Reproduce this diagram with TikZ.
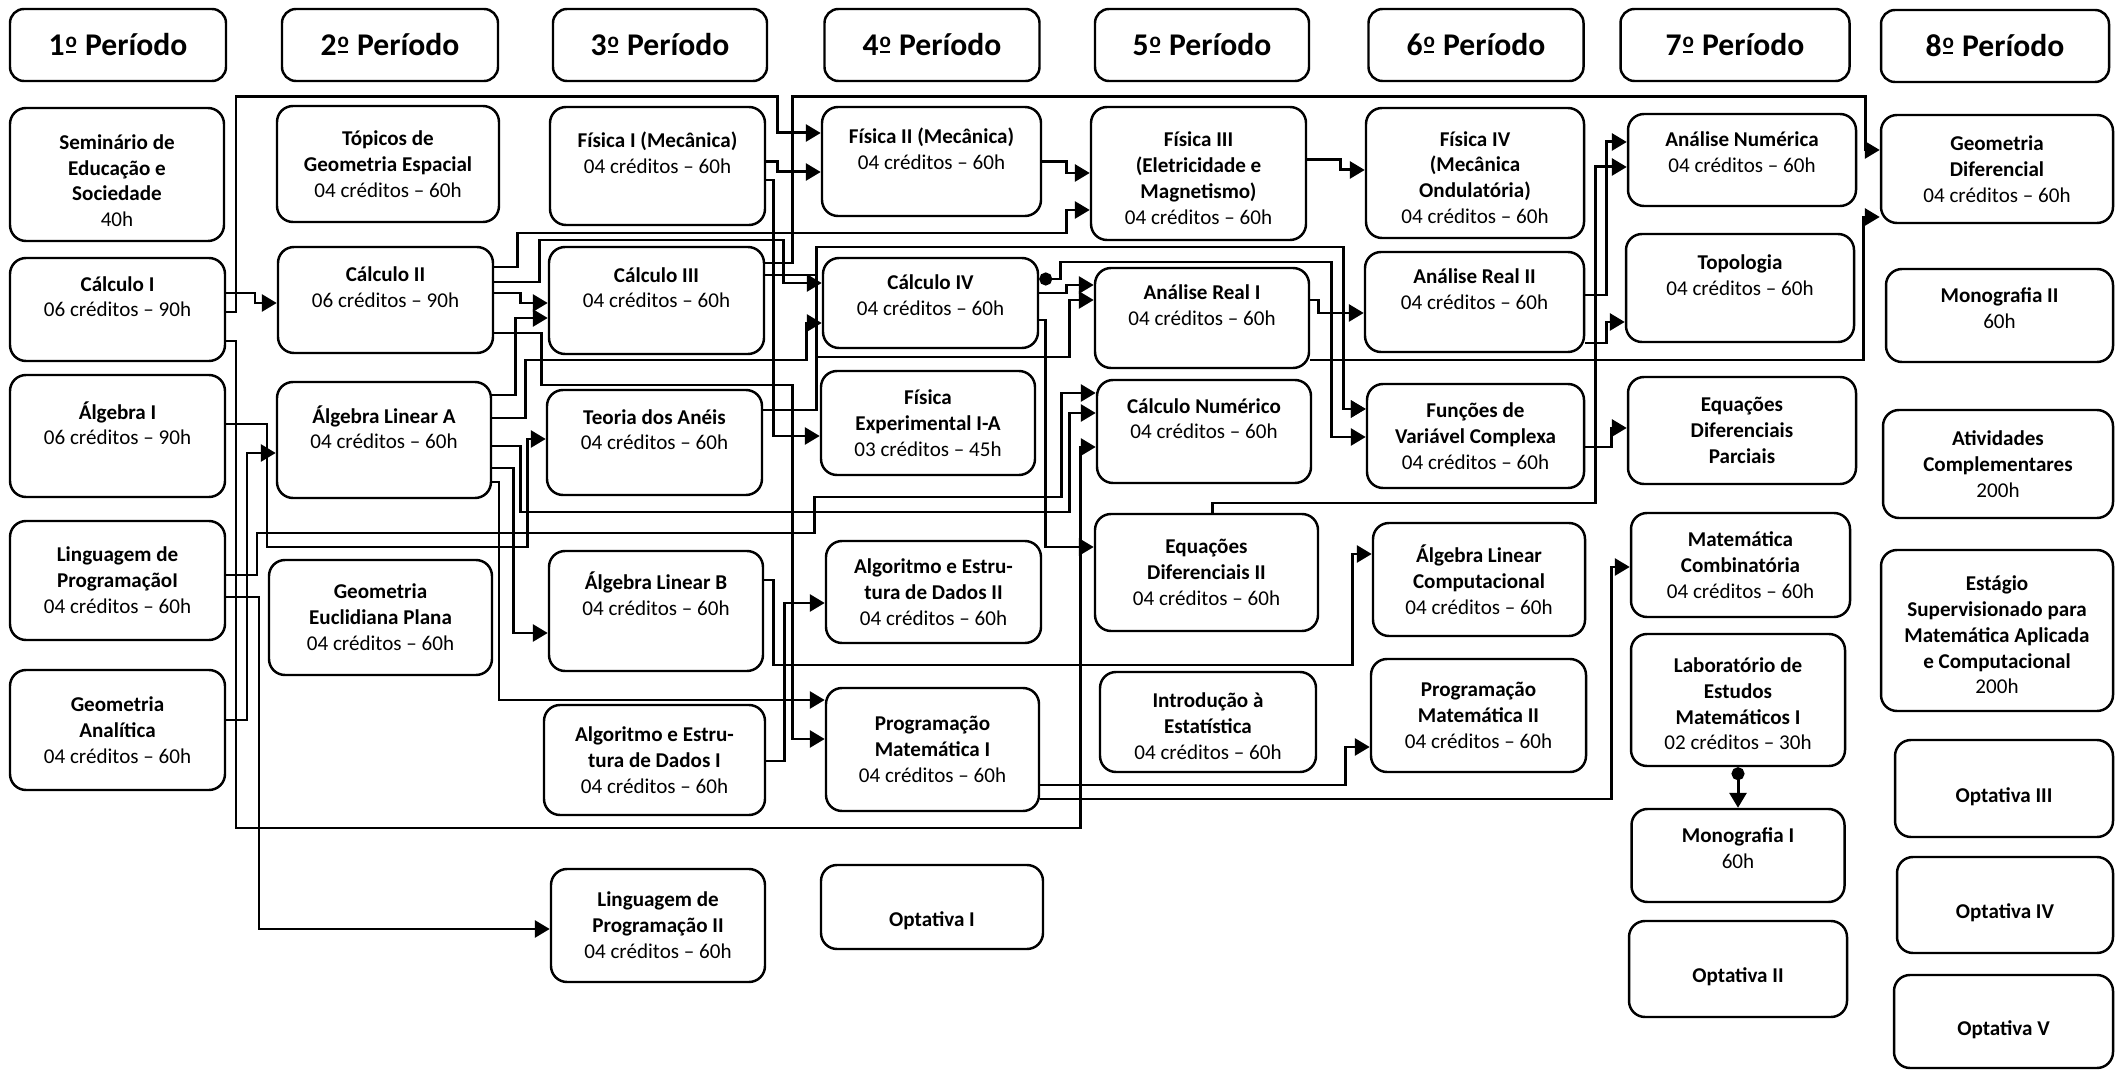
\documentclass[tikz,border=0pt]{standalone}
\usepackage{fontspec}
\setmainfont{Carlito}
\usetikzlibrary{arrows.meta,positioning}
% o ordinal sublinhado, como no original
\newcommand{\ordo}{\makebox[7.5pt][c]{\ooalign{\raisebox{5.1pt}{\fontsize{12}{12}\selectfont o}\cr\hidewidth\rule[1.7pt]{5.8pt}{1.1pt}\hidewidth\cr}}}
\tikzset{
  period/.style={draw, line width=1.4pt, rounded corners=0.28cm, inner sep=0pt, font=\bfseries\fontsize{18}{21}\selectfont},
  course/.style={draw, line width=1.4pt, rounded corners=0.32cm, inner sep=0pt, align=center, font=\fontsize{12}{14.7}\selectfont},
  optbox/.style={course, text height=18.8pt, text depth=3pt, font=\bfseries\fontsize{12}{14.7}\selectfont},
  sz/.style 2 args={minimum width=#1*0.02cm, minimum height=#2*0.02cm},
  req/.style={line width=1.7pt, -{Triangle[length=0.3cm,width=0.34cm]}},
  coreq/.style={line width=1.7pt, {Circle[length=0.26cm]}-{Triangle[length=0.3cm,width=0.34cm]}},
}
\begin{document}
\begin{tikzpicture}[x=0.02cm, y=-0.02cm]
\useasboundingbox (0,0) rectangle (2116,1070);

% periodos
\node (p1) [period, sz={216}{72}] at (118,45) {1\ordo{} Período};
\node (p2) [period, sz={216}{72}] at (390,45) {2\ordo{} Período};
\node (p3) [period, sz={214}{72}] at (660,45) {3\ordo{} Período};
\node (p4) [period, sz={215}{72}] at (932,45) {4\ordo{} Período};
\node (p5) [period, sz={214}{72}] at (1202,45) {5\ordo{} Período};
\node (p6) [period, sz={215}{72}] at (1476,45) {6\ordo{} Período};
\node (p7) [period, sz={229}{72}] at (1735,45) {7\ordo{} Período};
\node (p8) [period, sz={228}{72}] at (1995,46) {8\ordo{} Período};

% 1o periodo
\node (seminario) [course, sz={214}{133}] at (117,174.5) {\rule{0pt}{15.5pt}\textbf{Seminário de}\\\textbf{Educação e}\\\textbf{Sociedade}\\40h};
\node (calcI) [course, sz={215}{103}] at (117.5,309.5) {\textbf{Cálculo I}\\06 créditos – 90h\\~};
\node (algI) [course, sz={215}{122}] at (117.5,436) {\textbf{Álgebra I}\\06 créditos – 90h\\~};
\node (lpI) [course, sz={215}{119}] at (117.5,580.5) {\textbf{Linguagem de}\\\textbf{ProgramaçãoI}\\04 créditos – 60h};
\node (geoAn) [course, sz={215}{120}] at (117.5,730) {\textbf{Geometria}\\\textbf{Analítica}\\04 créditos – 60h};

% 2o periodo
\node (topGeo) [course, sz={222}{116}] at (388,164) {\textbf{Tópicos de}\\\textbf{Geometria Espacial}\\04 créditos – 60h};
\node (calcII) [course, sz={215}{106}] at (385.5,300) {\textbf{Cálculo II}\\06 créditos – 90h\\~};
\node (alA) [course, sz={214}{116}] at (384,440) {\textbf{Álgebra Linear A}\\04 créditos – 60h\\~};
\node (geoEuc) [course, sz={223}{115}] at (380.5,617.5) {\textbf{Geometria}\\\textbf{Euclidiana Plana}\\04 créditos – 60h};

% 3o periodo
\node (fisI) [course, sz={215}{118}] at (657.5,166) {\textbf{Física I (Mecânica)}\\04 créditos – 60h\\~};
\node (calcIII) [course, sz={215}{107}] at (656.5,300.5) {\textbf{Cálculo III}\\04 créditos – 60h\\~};
\node (aneis) [course, sz={215}{105}] at (654.5,442.5) {\textbf{Teoria dos Anéis}\\04 créditos – 60h\\~};
\node (alB) [course, sz={214}{120}] at (656,611) {\textbf{Álgebra Linear B}\\04 créditos – 60h\\[5.3pt]~};
\node (algoI) [course, sz={221}{110}] at (654.5,760) {\textbf{Algoritmo e Estru-}\\\textbf{tura de Dados I}\\04 créditos – 60h};
\node (lpII) [course, sz={214}{113}] at (658,925.5) {\textbf{Linguagem de}\\\textbf{Programação II}\\04 créditos – 60h};

% 4o periodo
\node (fisII) [course, sz={219}{109}] at (931.5,161.5) {\textbf{Física II (Mecânica)}\\04 créditos – 60h\\~};
\node (calcIV) [course, sz={215}{90}] at (930.5,303) {\textbf{Cálculo IV}\\04 créditos – 60h\\[-6pt]~};
\node (fexp) [course, sz={214}{104}] at (928,423) {\textbf{Física}\\\textbf{Experimental I-A}\\03 créditos – 45h};
\node (algoII) [course, sz={215}{102}] at (933.5,592) {\textbf{Algoritmo e Estru-}\\\textbf{tura de Dados II}\\04 créditos – 60h};
\node (pmI) [course, sz={213}{123}] at (932.5,749.5) {\textbf{Programação}\\\textbf{Matemática I}\\04 créditos – 60h};
\node (opt1) [optbox, sz={222}{84}, text height=25.6pt] at (932,907) {Optativa I};

% 5o periodo
\node (fisIII) [course, sz={215}{133}] at (1198.5,173.5) {\rule{0pt}{13.5pt}\textbf{Física III}\\\textbf{(Eletricidade e}\\\textbf{Magnetismo)}\\04 créditos – 60h};
\node (anaRealI) [course, sz={214}{100}] at (1202,318) {\textbf{Análise Real I}\\04 créditos – 60h\\~};
\node (calcNum) [course, sz={214}{103}] at (1204,431.5) {\textbf{Cálculo Numérico}\\04 créditos – 60h\\~};
\node (edII) [course, sz={223}{117}] at (1206.5,572.5) {\textbf{Equações}\\\textbf{Diferenciais II}\\04 créditos – 60h};
\node (est) [course, sz={216}{100}] at (1208,722) {\rule{0pt}{13.5pt}\textbf{Introdução à}\\\textbf{Estatística}\\04 créditos – 60h};

% 6o periodo
\node (fisIV) [course, sz={218}{130}] at (1475,173) {\rule{0pt}{13.5pt}\textbf{Física IV}\\\textbf{(Mecânica}\\\textbf{Ondulatória)}\\04 créditos – 60h};
\node (anaRealII) [course, sz={219}{100}] at (1474.5,302) {\textbf{Análise Real II}\\04 créditos – 60h\\~};
\node (fvc) [course, sz={217}{104}] at (1475.5,436) {\textbf{Funções de}\\\textbf{Variável Complexa}\\04 créditos – 60h};
\node (alC) [course, sz={212}{113}] at (1479,579.5) {\textbf{Álgebra Linear}\\\textbf{Computacional}\\04 créditos – 60h};
\node (pmII) [course, sz={215}{113}] at (1478.5,715.5) {\textbf{Programação}\\\textbf{Matemática II}\\04 créditos – 60h};

% 7o periodo
\node (anaNum) [course, sz={228}{92}] at (1742,160) {\textbf{Análise Numérica}\\04 créditos – 60h\\[-6pt]~};
\node (topo) [course, sz={228}{108}] at (1740,288) {\textbf{Topologia}\\04 créditos – 60h\\~};
\node (edp) [course, sz={228}{107}] at (1742,430.5) {\textbf{Equações}\\\textbf{Diferenciais}\\\textbf{Parciais}};
\node (matComb) [course, sz={219}{104}] at (1740.5,565) {\textbf{Matemática}\\\textbf{Combinatória}\\04 créditos – 60h};
\node (lab) [course, sz={214}{132}] at (1738,700) {\rule{0pt}{12.8pt}\textbf{Laboratório de}\\\textbf{Estudos}\\\textbf{Matemáticos I}\\02 créditos – 30h};
\node (monoI) [course, sz={213}{93}] at (1738,855.5) {\textbf{Monografia I}\\60h\\[-6pt]~};
\node (opt2) [optbox, sz={218}{96}] at (1738,969) {Optativa II};

% 8o periodo
\node (geoDif) [course, sz={232}{108}] at (1997,169) {\textbf{Geometria}\\\textbf{Diferencial}\\04 créditos – 60h};
\node (monoII) [course, sz={227}{93}] at (1999.5,315.5) {\textbf{Monografia II}\\60h\\[-6pt]~};
\node (ativ) [course, sz={230}{108}] at (1998,464) {\textbf{Atividades}\\\textbf{Complementares}\\200h};
\node (estagio) [course, sz={232}{161}] at (1997,630.5) {\rule{0pt}{13.5pt}\textbf{Estágio}\\\textbf{Supervisionado para}\\\textbf{Matemática Aplicada}\\\textbf{e Computacional}\\200h};
\node (opt3) [optbox, sz={218}{97}] at (2004,788.5) {Optativa III};
\node (opt4) [optbox, sz={216}{96}] at (2005,905) {Optativa IV};
\node (opt5) [optbox, sz={219}{93}] at (2003.5,1021.5) {Optativa V};

% pre-requisitos do 1o periodo
\draw [req] (calcI.east |- 0,293) -| (255,303) -- (calcII.west |- 0,303);
\draw [req] (calcI.east |- 0,312) -| (236,97) -| (777,133) -- (fisII.west |- 0,133);
\draw [req] (calcI.east |- 0,341) -| (236,828) -| (1080,447) -- (calcNum.west |- 0,447);
\draw [req] (algI.east |- 0,424) -| (267,547) -| (527,439) -- (aneis.west |- 0,439);
\draw [req] (lpI.east |- 0,575) -| (257,533) -| (814,497) -| (1061,393) -- (calcNum.west |- 0,393);
\draw [req] (lpI.east |- 0,597) -| (259,929) -- (lpII.west |- 0,929);
\draw [req] (geoAn.east |- 0,720) -| (247,453) -- (alA.west |- 0,453);

% 2o periodo
\draw [req] (calcII.east |- 0,267) -| (517,233) -| (1066,210) -- (fisIII.west |- 0,210);
\draw [req] (calcII.east |- 0,282) -| (539,240) -| (783,283) -- (calcIV.west |- 0,283);
\draw [req] (calcII.east |- 0,293) -| (520,303) -- (calcIII.west |- 0,303);
\draw [req] (calcII.east |- 0,333) -| (541,385) -| (792,739) -- (pmI.west |- 0,739);
\draw [req] (alA.east |- 0,395) -| (515,318) -- (calcIII.west |- 0,318);
\draw [req] (alA.east |- 0,418) -| (525,360) -| (806,323) -- (calcIV.west |- 0,323);
\draw [req] (alA.east |- 0,446) -| (520,512) -| (1069,413) -- (calcNum.west |- 0,413);
\draw [req] (alA.east |- 0,468) -| (513,633) -- (alB.west |- 0,633);
\draw [req] (alA.east |- 0,482) -| (499,700) -- (pmI.west |- 0,700);

% 3o periodo
\draw [req] (fisI.east |- 0,162) -| (777,172) -- (fisII.west |- 0,172);
\draw [req] (fisI.east |- 0,180) -| (773,436) -- (fexp.west |- 0,436);
\draw [req] (calcIII.east |- 0,263) -| (792,97) -| (1865,150) -- (geoDif.west |- 0,150);
\draw [req] (calcIII.east |- 0,275) -| (816,247) -| (1343,409) -- (fvc.west |- 0,409);
\draw [req] (aneis.east |- 0,410) -| (816,247) -| (1343,409) -- (fvc.west |- 0,409);
\draw [req] (aneis.east |- 0,410) -| (816,357) -| (1069,300) -- (anaRealI.west |- 0,300);
\draw [req] (alB.east |- 0,580) -| (773,665) -| (1352,554) -- (alC.west |- 0,554);
\draw [req] (algoI.east |- 0,761) -| (784,603) -- (algoII.west |- 0,603);

% 4o periodo
\draw [req] (fisII.east |- 0,162) -| (1066,173) -- (fisIII.west |- 0,173);
\draw [coreq] (calcIV.east |- 0,279) -| (1060,262) -| (1331,437) -- (fvc.west |- 0,437);
\draw [req] (calcIV.east |- 0,293) -| (1066,285) -- (anaRealI.west |- 0,285);
\draw [req] (calcIV.east |- 0,320) -| (1045,547) -- (edII.west |- 0,547);
\draw [req] (pmI.east |- 0,785) -| (1345,747) -- (pmII.west |- 0,747);
\draw [req] (pmI.east |- 0,799) -| (1611,567) -- (matComb.west |- 0,567);

% 5o e 6o periodos
\draw [req] (fisIII.east |- 0,160) -| (1340,170) -- (fisIV.west |- 0,170);
\draw [req] (anaRealI.east |- 0,300) -| (1318,313) -- (anaRealII.west |- 0,313);
\draw [req] (anaRealI.east |- 0,360) -| (1863,217) -- (geoDif.west |- 0,217);
\draw [req] (edII.north -| 1212,0) |- (1595,503) |- (anaNum.west |- 0,167);
\draw [req] (anaRealII.east |- 0,295) -| (1606,142) -- (anaNum.west |- 0,142);
\draw [req] (anaRealII.east |- 0,343) -| (1606,322) -- (topo.west |- 0,322);
\draw [req] (fvc.east |- 0,447) -| (1611,428) -- (edp.west |- 0,428);

% 7o periodo
\draw [coreq] (lab.south) -- (monoI.north);
\end{tikzpicture}
\end{document}
